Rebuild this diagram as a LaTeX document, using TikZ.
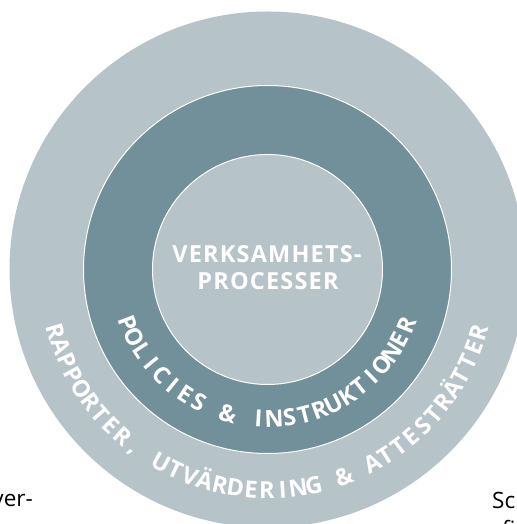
\documentclass[tikz,border=0pt]{standalone}
\usepackage{fontspec}
\setmainfont{Open Sans}
\newfontfamily\labfont{Open Sans}
\definecolor{ringlight}{RGB}{182,195,200}
\definecolor{ringdark}{RGB}{114,144,153}
\newlength\arclen
\newlength\chw
\newcount\chcount
\newcommand\ringtext[6]{%
  \global\arclen=0pt \global\chcount=0
  \foreach \ch in {#6}{\settowidth\chw{#5\ch}\global\advance\arclen by \chw \global\advance\chcount by 1 }%
  \pgfmathsetmacro\trk{((#4-#3)*pi/180*#2-\arclen)/(\chcount-1)}%
  \xdef\curang{#3}%
  \foreach \ch [count=\i] in {#6}{%
    \settowidth\chw{#5\ch}%
    \pgfmathsetmacro\midang{\curang+(\chw/2)/#2*180/pi}%
    \node[ringletter,font=#5,rotate=\midang+90] (#1\i) at ([shift={(\midang:#2)}]c) {\ch};
    \pgfmathsetmacro\nextang{\curang+(\chw+\trk)/#2*180/pi}%
    \xdef\curang{\nextang}%
  }%
}
\begin{document}
\begin{tikzpicture}[x=1pt,y=1pt,
  centerlabel/.style={text=white,inner sep=0pt,font=\labfont\bfseries\fontsize{23.5}{23.5}\selectfont\addfontfeatures{LetterSpace=5}},
  ringletter/.style={text=white,inner sep=0pt,anchor=base},
  pagetext/.style={text=black,inner sep=0pt,font=\fontsize{22.5}{27}\selectfont}
]
\useasboundingbox (0,0) rectangle (516,524);
\coordinate (c) at (267.5,254.5);
\fill[ringlight] (c) circle[radius=258];
\filldraw[fill=ringdark,draw=white,line width=1pt] (c) circle[radius=184];
\filldraw[fill=ringlight,draw=white,line width=1pt] (c) circle[radius=115];
\node[centerlabel,anchor=base] (t1) at (267,261) {VERKSAMHETS-};
\node[centerlabel,anchor=base] (t2) at (268,234) {PROCESSER};
\ringtext{pol}{158}{201}{338}{\labfont\bfseries\fontsize{23.5}{23.5}\selectfont}{P,O,L,I,C,I,E,S,{\ },\&,{\ },I,N,S,T,R,U,K,T,I,O,N,E,R}
\ringtext{rap}{229}{196.3}{343.4}{\labfont\bfseries\fontsize{23.5}{23.5}\selectfont}{R,A,P,P,O,R,T,E,R,{,},{\ },U,T,V,Ä,R,D,E,R,I,N,G,{\ },\&,{\ },A,T,T,E,S,T,R,Ä,T,T,E,R}
\node[pagetext,anchor=base east] (p1) at (33,17) {ver-};
\node[pagetext,anchor=base west] (p2) at (492,16) {Sc};
\node[pagetext,anchor=base west] (p3) at (502,-13) {fi};
\end{tikzpicture}
\end{document}
